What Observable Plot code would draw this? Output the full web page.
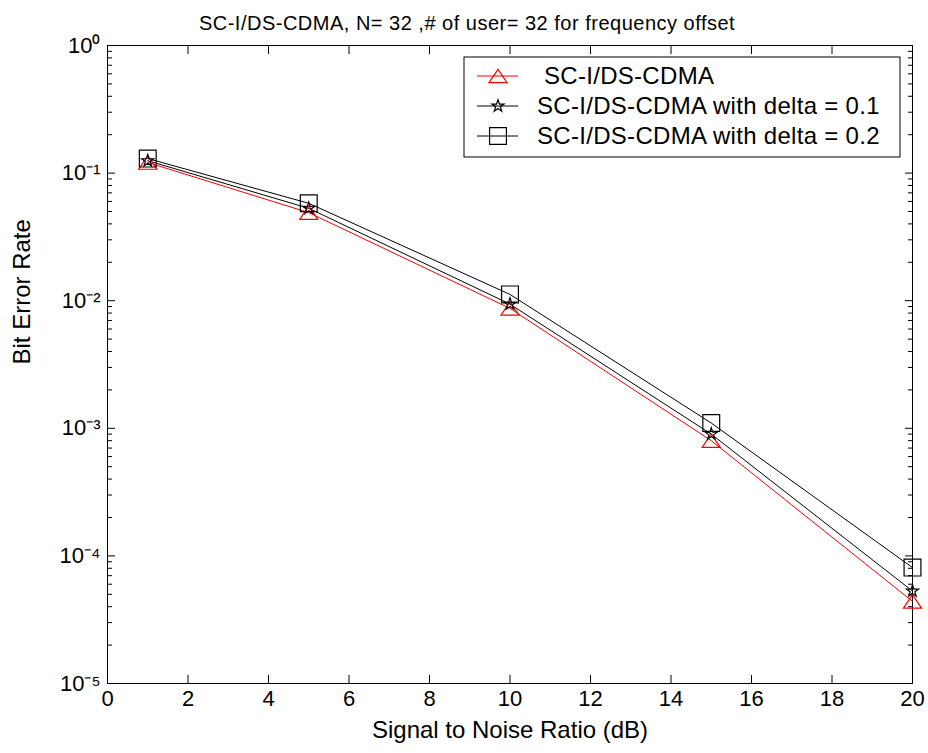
<!DOCTYPE html>
<html><head><meta charset="utf-8">
<script src="https://cdn.jsdelivr.net/npm/d3@7"></script>
<script src="https://cdn.jsdelivr.net/npm/@observablehq/plot@0.6"></script>
<style>body{margin:0;background:#fff}</style>
</head><body><div id="chart"></div>
<script>
const titleText = "SC-I/DS-CDMA, N= 32 ,# of user= 32 for frequency offset";
const xLabel = "Signal to Noise Ratio (dB)";
const yLabel = "Bit Error Rate";
const snr = [1, 5, 10, 15, 20];
const berBase = [0.121, 0.049, 0.0087, 0.00080, 4.4e-5];
const berDelta01 = [0.125, 0.053, 0.0094, 0.00090, 5.3e-5];
const berDelta02 = [0.130, 0.058, 0.0112, 0.00110, 8.1e-5];
const seriesNames = [" SC-I/DS-CDMA", "SC-I/DS-CDMA with delta = 0.1", "SC-I/DS-CDMA with delta = 0.2"];
const seriesColors = ["red", "black", "black"];
const seriesSymbols = ["triangle", "star", "square"];
const xTicks = [0, 2, 4, 6, 8, 10, 12, 14, 16, 18, 20];
const yMajor = [1e-5, 1e-4, 1e-3, 1e-2, 1e-1, 1];

const symR = [6.7, 3.8, 9.5];
const seriesData = [berBase, berDelta01, berDelta02];
const yMinor = [];
for (let e = -5; e < 0; e++) for (let m = 2; m <= 9; m++) yMinor.push(m * Math.pow(10, e));
const sup = {"-": "⁻", "0": "⁰", "1": "¹", "2": "²", "3": "³", "4": "⁴", "5": "⁵"};
const fmtPow = d => "10" + String(Math.round(Math.log10(d))).split("").map(c => sup[c]).join("");

// MATLAB-like wide triangle marker
const wideTriangle = {
  draw(context, size) {
    const r = Math.sqrt(size / Math.PI);
    const a = r * 1.35, b = r * 1.0;
    context.moveTo(0, -b);
    context.lineTo(a, b);
    context.lineTo(-a, b);
    context.closePath();
  }
};
const symObj = {triangle: wideTriangle, star: "star", square: "square"};

const rows = seriesData.map((arr, s) => snr.map((x, i) => ({snr: x, ber: arr[i], s})));
const font = "'Liberation Sans', Arial, sans-serif";
const tickFs = 22, labFs = 24, titleFs = 20, legFs = 24;

const marks = [
  Plot.frame({stroke: "black", strokeWidth: 1}),
  Plot.axisX(xTicks, {anchor: "bottom", tickSize: -8, tickPadding: 15, fontSize: tickFs, label: null, tickFormat: d => String(d)}),
  Plot.axisX(xTicks, {anchor: "top", tickSize: -8, label: null, tickFormat: () => ""}),
  Plot.axisY(yMajor, {anchor: "left", tickSize: -8, tickPadding: 15, fontSize: tickFs, label: null, tickFormat: fmtPow}),
  Plot.axisY(yMinor, {anchor: "left", tickSize: -5, label: null, tickFormat: () => ""}),
  Plot.axisY(yMajor, {anchor: "right", tickSize: -8, label: null, tickFormat: () => ""}),
  Plot.axisY(yMinor, {anchor: "right", tickSize: -5, label: null, tickFormat: () => ""}),
  ...rows.map((r, s) => Plot.line(r, {x: "snr", y: "ber", stroke: seriesColors[s], strokeWidth: 1})),
  ...rows.map((r, s) => Plot.dot(r, {x: "snr", y: "ber", symbol: symObj[seriesSymbols[s]], r: symR[s], stroke: seriesColors[s], fill: "none", strokeWidth: 1.2})),
  Plot.text([titleText], {frameAnchor: "top", dx: -43, dy: -30, fontSize: titleFs, text: d => d}),
  Plot.text([xLabel], {frameAnchor: "bottom", dy: 54, fontSize: labFs, text: d => d}),
  Plot.text([yLabel], {frameAnchor: "left", dx: -85, rotate: -90, fontSize: labFs, text: d => d})
];

const chart = Plot.plot({
  width: 928, height: 753,
  marginLeft: 107, marginRight: 16, marginTop: 45, marginBottom: 70,
  style: {fontFamily: font, fontSize: tickFs + "px", color: "black", background: "white", overflow: "visible"},
  x: {domain: [0, 20], axis: null},
  y: {type: "log", domain: [1e-5, 1], axis: null},
  marks
});
document.getElementById("chart").append(chart);

const svg = d3.select(chart);
svg.selectAll("text").filter(function() { return this.textContent === titleText; })
  .style("letter-spacing", "0.5px");

// legend (inside the plot, upper right)
const lg = svg.append("g").attr("text-anchor", "start");
const bx = 464, by = 57, bw = 436, bh = 100;
lg.append("rect").attr("x", bx).attr("y", by).attr("width", bw).attr("height", bh)
  .attr("fill", "white").attr("stroke", "black");
seriesNames.forEach((name, i) => {
  const yy = by + 19 + i * 30;
  lg.append("line").attr("x1", bx + 13).attr("x2", bx + 54).attr("y1", yy).attr("y2", yy)
    .attr("stroke", seriesColors[i]);
  const sym = seriesSymbols[i] === "triangle" ? wideTriangle : seriesSymbols[i] === "star" ? d3.symbolStar : d3.symbolSquare;
  lg.append("path").attr("transform", `translate(${bx + 34},${yy})`)
    .attr("d", d3.symbol(sym, Math.PI * symR[i] * symR[i])())
    .attr("fill", "none").attr("stroke", seriesColors[i]).attr("stroke-width", 1.2);
  lg.append("text").attr("x", bx + 73).attr("y", yy).attr("dy", "0.35em")
    .attr("font-size", legFs).attr("letter-spacing", "0.3px").attr("fill", "black")
    .style("white-space", "pre").text(name);
});
</script></body></html>
